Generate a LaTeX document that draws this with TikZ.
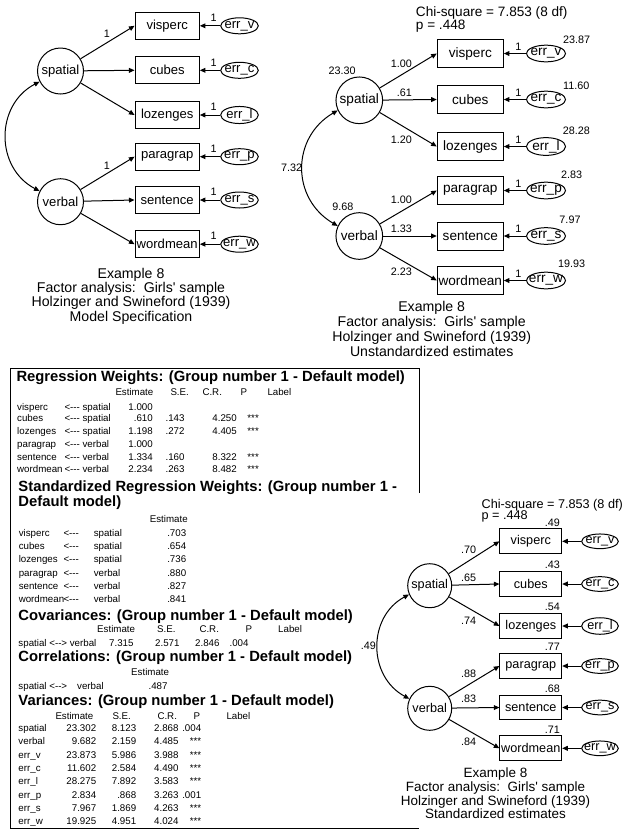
\documentclass[tikz,border=0pt]{standalone}
\usepackage{fontspec}
\setmainfont{Liberation Sans}
\usetikzlibrary{arrows.meta,shapes.geometric}

\newcommand\capfont{\fontsize{10.6}{12}\selectfont}
\newcommand\capfontsm{\fontsize{10.1}{12}\selectfont}

\tikzset{
  >={Triangle[length=4.2pt,width=3.6pt]},
  obs/.style={draw, rectangle, inner sep=0pt},
  lat/.style={draw, circle, inner sep=0pt},
  err/.style={draw, ellipse, inner xsep=-3pt, inner ysep=0pt},
  est/.style={inner sep=0pt, font=\fontsize{8.1}{9}\selectfont},
  capt/.style={inner sep=0pt, anchor=base},
  tbl/.style={inner sep=0pt, font=\fontsize{7.3}{8}\selectfont},
  thead/.style={inner sep=0pt, anchor=base west, font=\bfseries\fontsize{11.1}{12}\selectfont}
}

\begin{document}
\begin{tikzpicture}[x=0.75pt, y=-0.75pt, line width=0.75pt]
\useasboundingbox (0,0) rectangle (633,840);

% Model specification
\begin{scope}[nodes={font=\fontsize{9.8}{11}\selectfont}]
  \node[lat, minimum size=34.5pt] (ls) at (60.5,71) {spatial};
  \node[lat, minimum size=34.5pt] (lv) at (60.5,201.7) {verbal};
  \foreach \y/\nm/\er [count=\i] in {25.8/visperc/v, 70.3/cubes/c, 115/lozenges/l,
      156.7/paragrap/p, 200/sentence/s, 244.2/wordmean/w} {
    \node[obs, minimum width=48.2pt, minimum height=20.3pt] (lb\i) at (167.2,\y) {\nm};
    \node[err, minimum width=28.2pt, minimum height=12pt] (le\i) at (239.5,\y) {err\_\er};
    \node[est] (lo\i) at (213.7,\y-8) {1};
    \draw[->] (le\i) -- (lb\i);
  }
  \foreach \i in {1,2,3} \draw[->] (ls) -- (lb\i.west);
  \foreach \i in {4,5,6} \draw[->] (lv) -- (lb\i.west);
  \node[est] (lw1) at (107,33.3) {1};
  \node[est] (lw4) at (107,165.7) {1};
  \draw[<->] (ls.207) .. controls +(-44.5,23.3) and +(-44.5,-23.3) .. (lv.153);
  \foreach \txt [count=\j] in {Example 8, {Factor analysis:\ \ Girls\textquotesingle\ sample},
      Holzinger and Swineford (1939), Model Specification}
    \node[capt, font=\capfont] (lc\j) at (131,{278.3+14.3*(\j-1)}) {\txt};
\end{scope}

% Unstandardized estimates
\begin{scope}[nodes={font=\fontsize{10.2}{11}\selectfont}]
  \node[anchor=base west] (mchi) at (411,16.5) {Chi-square = 7.853 (8 df)};
  \node[anchor=base west] (mp) at (411,29.5) {p = .448};
  \node[lat, minimum size=35pt] (ms) at (359.3,100.3) {spatial};
  \node[lat, minimum size=35pt] (mv) at (359.3,236) {verbal};
  \node[est] (msv) at (342.2,71) {23.30};
  \node[est] (mvv) at (342.8,206.7) {9.68};
  \foreach \y/\nm/\er/\wt/\wy/\vs/\vx/\vy [count=\i] in {
      53.5/visperc/v/1.00/63.3/23.87/576.6/40,
      99.5/cubes/c/.61/92.3/11.60/576.3/86,
      146.5/lozenges/l/1.20/139.3/28.28/576.3/131,
      190.5/paragrap/p/1.00/199.3/2.83/571.7/175,
      236/sentence/s/1.33/228.7/7.97/570/220,
      280.5/wordmean/w/2.23/271.7/19.93/571.7/264} {
    \node[obs, minimum width=49.5pt, minimum height=21pt] (mb\i) at (470.3,\y) {\nm};
    \node[err, minimum width=29.3pt, minimum height=12.5pt] (me\i) at (546,\y) {err\_\er};
    \node[est] (mo\i) at (518.3,\y-6.8) {1};
    \node[est, anchor=east] (mw\i) at (412.3,\wy) {\wt};
    \node[est] (mvar\i) at (\vx,\vy) {\vs};
    \draw[->] (me\i) -- (mb\i);
  }
  \foreach \i in {1,2,3} \draw[->] (ms) -- (mb\i.west);
  \foreach \i in {4,5,6} \draw[->] (mv) -- (mb\i.west);
  \draw[<->] (ms.205) .. controls +(-46.6,27.3) and +(-46.6,-27.3) .. (mv.155);
  \node[est, anchor=east] (mcov) at (302.7,167.7) {7.32};
  \foreach \txt [count=\j] in {Example 8, {Factor analysis:\ \ Girls\textquotesingle\ sample},
      Holzinger and Swineford (1939), Unstandardized estimates}
    \node[capt, font=\capfont] (mc\j) at (431.7,{311.7+15*(\j-1)}) {\txt};
\end{scope}

% Output tables
\draw (419,493) -- (419,368) -- (10,368) -- (10,828) -- (419,828);

\node[thead] (trh) at (16,381) {Regression Weights: (Group number 1 - Default model)};
\foreach \txt/\x [count=\j] in {Estimate/115, S.E./170, C.R./202, P/240, Label/267}
  \node[tbl, anchor=base west] (trc\j) at (\x,395.2) {\txt};
\foreach \y/\nm/\src/\es/\sev/\crv/\pv [count=\i] in {
    410/visperc/spatial/1.000/{}/{}/{},
    421.5/cubes/spatial/.610/.143/4.250/***,
    434.2/lozenges/spatial/1.198/.272/4.405/***,
    447.5/paragrap/verbal/1.000/{}/{}/{},
    460/sentence/verbal/1.334/.160/8.322/***,
    472.2/wordmean/verbal/2.234/.263/8.482/***} {
  \node[tbl, anchor=base west] (trn\i) at (16.7,\y) {\nm};
  \node[tbl, anchor=base west] (trs\i) at (64,\y) {<-{}-{}- \src};
  \node[tbl, anchor=base east] (tre\i) at (153.3,\y) {\es};
  \node[tbl, anchor=base east] (trse\i) at (185,\y) {\sev};
  \node[tbl, anchor=base east] (trcr\i) at (237.3,\y) {\crv};
  \node[tbl, anchor=base east] (trp\i) at (259.3,\y) {\pv};
}

\node[thead] (tsh1) at (18,491) {Standardized Regression Weights: (Group number 1 -};
\node[thead] (tsh2) at (18,506.5) {Default model)};
\node[tbl, anchor=base west] (tsc) at (149.3,522.5) {Estimate};
\foreach \y/\nm/\src/\es [count=\i] in {536/visperc/spatial/.703, 549/cubes/spatial/.654,
    562.2/lozenges/spatial/.736, 576/paragrap/verbal/.880, 589/sentence/verbal/.827,
    602.2/wordmean/verbal/.841} {
  \node[tbl, anchor=base west] (tsn\i) at (18.3,\y) {\nm};
  \node[tbl, anchor=base west] (tsa\i) at (63,\y) {<-{}-{}-};
  \node[tbl, anchor=base west] (tss\i) at (93.3,\y) {\src};
  \node[tbl, anchor=base east] (tse\i) at (186.7,\y) {\es};
}

\node[thead] (tch) at (18,620) {Covariances: (Group number 1 - Default model)};
\foreach \txt/\x [count=\j] in {Estimate/96.7, S.E./156.7, C.R./199, P/245, Label/277.7}
  \node[tbl, anchor=base west] (tcc\j) at (\x,632.5) {\txt};
\node[tbl, anchor=base west] (tcn) at (18,646) {spatial <-{}-> verbal};
\foreach \txt/\x [count=\j] in {7.315/134, 2.571/180, 2.846/220, .004/249}
  \node[tbl, anchor=base east] (tcv\j) at (\x,646) {\txt};

\node[thead] (tkh) at (18,661) {Correlations: (Group number 1 - Default model)};
\node[tbl, anchor=base west] (tkc) at (130.7,675) {Estimate};
\node[tbl, anchor=base west] (tkn) at (18,689.2) {spatial <-{}->};
\node[tbl, anchor=base west] (tkm) at (76.7,689.2) {verbal};
\node[tbl, anchor=base east] (tke) at (168,689.2) {.487};

\node[thead] (tvh) at (18,705) {Variances: (Group number 1 - Default model)};
\foreach \txt/\x [count=\j] in {Estimate/55, S.E./112, C.R./157, P/193, Label/226}
  \node[tbl, anchor=base west] (tvc\j) at (\x,719) {\txt};
\foreach \nm/\es/\sev/\crv/\pv [count=\i] in {spatial/23.302/8.123/2.868/.004,
    verbal/9.682/2.159/4.485/***, err\_v/23.873/5.986/3.988/***,
    err\_c/11.602/2.584/4.490/***, err\_l/28.275/7.892/3.583/***,
    err\_p/2.834/.868/3.263/.001, err\_s/7.967/1.869/4.263/***,
    err\_w/19.925/4.951/4.024/***} {
  \node[tbl, anchor=base west] (tvn\i) at (18,{731.5+13.35*(\i-1)}) {\nm};
  \node[tbl, anchor=base east] (tve\i) at (96.7,{731.5+13.35*(\i-1)}) {\es};
  \node[tbl, anchor=base east] (tvs\i) at (136.7,{731.5+13.35*(\i-1)}) {\sev};
  \node[tbl, anchor=base east] (tvr\i) at (179,{731.5+13.35*(\i-1)}) {\crv};
  \node[tbl, anchor=base east] (tvp\i) at (201.7,{731.5+13.35*(\i-1)}) {\pv};
}

% Standardized estimates
\begin{scope}[nodes={font=\fontsize{9.5}{11}\selectfont}]
  \node[anchor=base west] (rchi) at (476.7,508.3) {Chi-square = 7.853 (8 df)};
  \node[anchor=base west] (rp) at (476.7,519.3) {p = .448};
  \node[lat, minimum size=33pt] (rs) at (429.7,585.7) {spatial};
  \node[lat, minimum size=33pt] (rv) at (429.7,708.3) {verbal};
  \foreach \y/\nm/\er/\wt/\wy/\vs/\vy [count=\i] in {
      541.3/visperc/v/.70/550/.49/522.3,
      584/cubes/c/.65/577.3/.43/565,
      626/lozenges/l/.74/620.7/.54/606.7,
      666/paragrap/p/.88/674/.77/646.7,
      707.5/sentence/s/.83/699/.68/688.3,
      748.3/wordmean/w/.84/741.7/.71/729.3} {
    \node[obs, minimum width=46.3pt, minimum height=18.6pt] (rb\i) at (530.8,\y) {\nm};
    \node[err, minimum width=27.5pt, minimum height=11pt] (re\i) at (600,\y) {err\_\er};
    \node[est, anchor=east] (rw\i) at (476.7,\wy) {\wt};
    \node[est, anchor=east] (rr\i) at (560.5,\vy) {\vs};
    \draw[->] (re\i) -- (rb\i);
  }
  \foreach \i in {1,2,3} \draw[->] (rs) -- (rb\i.west);
  \foreach \i in {4,5,6} \draw[->] (rv) -- (rb\i.west);
  \draw[<->] (rs.203) .. controls +(-41.6,22.5) and +(-41.6,-22.5) .. (rv.155);
  \node[est, anchor=east] (rcov) at (376.5,646) {.49};
  \foreach \txt [count=\j] in {Example 8, {Factor analysis:\ \ Girls\textquotesingle\ sample},
      Holzinger and Swineford (1939), Standardized estimates}
    \node[capt, font=\capfontsm] (rc\j) at (495.5,{777.4+13.8*(\j-1)}) {\txt};
\end{scope}
\end{tikzpicture}
\end{document}
